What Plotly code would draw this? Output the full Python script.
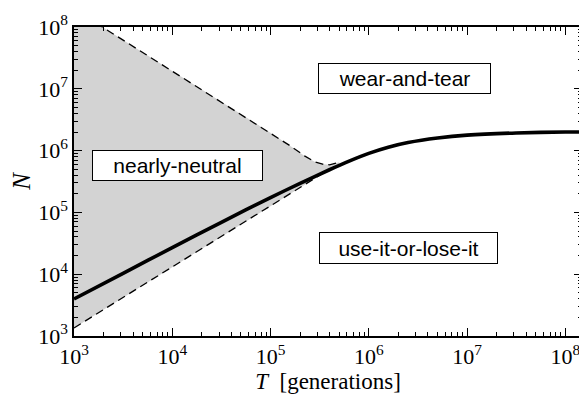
import plotly.graph_objects as go

# ---- data ----
# thick solid curve
T_solid = [1e3, 3.16e3, 1e4, 3.16e4, 1e5, 2e5, 3.98e5, 6.31e5, 1e6,
           1.58e6, 2.51e6, 5.01e6, 1e7, 3.16e7, 1e8, 1.48e8]
N_solid = [3.98e3, 1.035e4, 2.69e4, 6.92e4, 1.74e5, 2.95e5, 4.9e5, 6.76e5, 9.02e5,
           1.135e6, 1.35e6, 1.6e6, 1.78e6, 1.93e6, 2.0e6, 2.0e6]

# lower dashed boundary
T_lower = [1e3, 1e4, 1e5, 3.98e5, 5.01e5]
N_lower = [1.35e3, 1.3e4, 1.26e5, 5.0e5, 5.95e5]

# upper dashed boundary (first point lies above the plotted range)
T_upper = [1e3, 3.16e3, 1e4, 3.16e4, 1e5, 1.58e5, 2.24e5, 2.82e5, 3.39e5, 3.98e5, 5.01e5]
N_upper = [1.95e8, 6.17e7, 1.95e7, 6.17e6, 1.95e6, 1.2e6, 8.13e5, 6.6e5, 6.03e5, 5.89e5, 6.46e5]

region_labels = ["nearly-neutral", "wear-and-tear", "use-it-or-lose-it"]
decades = [3, 4, 5, 6, 7, 8]

fig = go.Figure()

# shaded nearly-neutral region
fig.add_trace(go.Scatter(
    x=T_lower + T_upper[::-1], y=N_lower + N_upper[::-1],
    fill="toself", fillcolor="#d3d3d3", mode="none",
    hoverinfo="skip", showlegend=False))

fig.add_trace(go.Scatter(x=T_lower, y=N_lower, mode="lines",
                         line=dict(color="black", width=1.3, dash="8px,5px"),
                         showlegend=False))
fig.add_trace(go.Scatter(x=T_upper, y=N_upper, mode="lines",
                         line=dict(color="black", width=1.3, dash="8px,5px"),
                         showlegend=False))
fig.add_trace(go.Scatter(x=T_solid, y=N_solid, mode="lines",
                         line=dict(color="black", width=3.6, shape="spline", smoothing=0.5),
                         showlegend=False))

box_specs = [  # (log10 T, log10 N, width, height)
    (4.05, 5.76, 169, 29),
    (6.36, 7.16, 171, 29),
    (6.40, 4.43, 177, 30),
]
for label, (bx, by, bw, bh) in zip(region_labels, box_specs):
    fig.add_annotation(x=bx, y=by, xref="x", yref="y", text=label, showarrow=False,
                       width=bw, height=bh, bgcolor="white", bordercolor="black",
                       borderwidth=1, borderpad=0, align="center", valign="middle",
                       font=dict(family="Liberation Sans", size=21, color="black"))

tickvals = [10 ** d for d in decades]
ticktext = ["10<sup>%d</sup>" % d for d in decades]
minor_vals = [k * 10 ** d for d in range(2, 9) for k in range(2, 10)]

axis_common = dict(
    type="log", showgrid=False, zeroline=False, showline=True,
    linecolor="black", linewidth=1.5, mirror="ticks",
    ticks="inside", ticklen=8, tickwidth=1, tickcolor="black",
    tickvals=tickvals, ticktext=ticktext,
    tickfont=dict(family="Liberation Serif", size=22, color="black"),
    minor=dict(ticks="inside", ticklen=4, tickwidth=1, tickcolor="black",
               tickvals=minor_vals, showgrid=False),
)

# the page body has an 8px margin, so the figure is drawn 8px in from the corner
fig.update_layout(
    width=579, height=390,
    margin=dict(l=66, r=3, t=16, b=62),
    paper_bgcolor="white", plot_bgcolor="white",
    xaxis=dict(range=[3, 8.17],
               title=dict(text="<i>T</i>  [generations]",
                          font=dict(family="Liberation Serif", size=23, color="black"),
                          standoff=0),
               **axis_common),
    yaxis=dict(range=[3, 8],
               title=dict(text="<i>N</i>",
                          font=dict(family="Liberation Serif", size=25, color="black"),
                          standoff=2),
               **axis_common),
)

fig.write_html("out.html")
